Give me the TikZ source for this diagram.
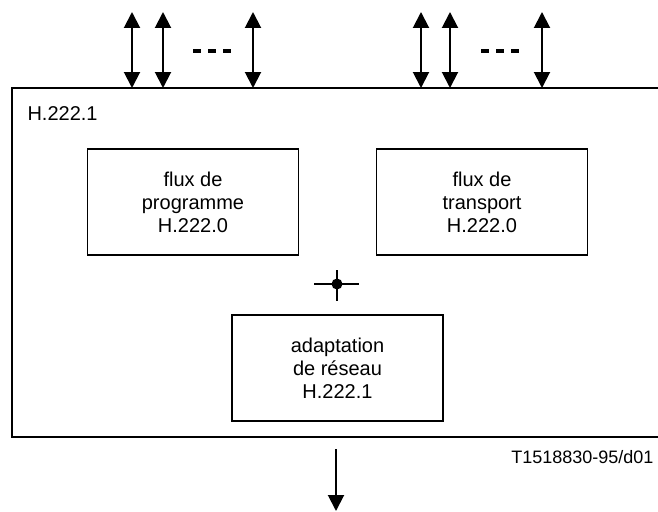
\documentclass[tikz,border=0pt]{standalone}
\usepackage{fontspec}
\setmainfont{Liberation Sans}
\usetikzlibrary{arrows.meta, positioning}

\begin{document}
\begin{tikzpicture}[
  x=1pt, y=-1pt,
  frame/.style={draw, line width=1.2pt, inner sep=0pt, minimum width=652pt, minimum height=349pt},
  block/.style={draw, line width=1.2pt, minimum width=211pt, minimum height=106pt, align=center, font=\fontsize{20}{23}\selectfont},
  biarrow/.style={line width=2pt, {Triangle[length=16pt, width=16pt]}-{Triangle[length=16pt, width=16pt]}},
  arrow/.style={line width=2pt, -{Triangle[length=16pt, width=16pt]}},
  cross/.style={line width=2pt},
  ellipsis/.style={line width=4pt, dash pattern=on 8pt off 7pt}
  ]
  \useasboundingbox (0,0) rectangle (658,511);

  % Outer H.222.1 frame (right side runs off the page)
  \node[frame] (sys) at (338,262.5) {};
  \node[anchor=base west, font=\fontsize{20}{23}\selectfont] (title) at (24,120) {H.222.1};

  % Inner blocks
  \node[block] (prog) at (193,202) {flux de\\programme\\H.222.0};
  \node[block] (trans) at (482,202) {flux de\\transport\\H.222.0};
  \node[block] (adapt) at (337.5,368) {adaptation\\de r\'eseau\\H.222.1};

  % Junction point
  \node[circle, fill, inner sep=0pt, minimum size=11pt] (junc) at (337,284) {};
  \coordinate (jl) at (314,284);
  \coordinate (jr) at (359,284);
  \coordinate (jt) at (337,270);
  \coordinate (jb) at (337,301);
  \draw[cross] (jl) -- (jr);
  \draw[cross] (jt) -- (jb);

  % Upper interfaces
  \coordinate (p1) at (132,88);  \coordinate (q1) at (132,12);
  \coordinate (p2) at (163,88);  \coordinate (q2) at (163,12);
  \coordinate (p3) at (253,88);  \coordinate (q3) at (253,12);
  \coordinate (p4) at (421,88);  \coordinate (q4) at (421,12);
  \coordinate (p5) at (450,88);  \coordinate (q5) at (450,12);
  \coordinate (p6) at (542,88);  \coordinate (q6) at (542,12);
  \draw[biarrow] (p1) -- (q1);
  \draw[biarrow] (p2) -- (q2);
  \draw[biarrow] (p3) -- (q3);
  \draw[biarrow] (p4) -- (q4);
  \draw[biarrow] (p5) -- (q5);
  \draw[biarrow] (p6) -- (q6);
  \draw[ellipsis] (193,51) -- (232,51);
  \draw[ellipsis] (481,51) -- (520,51);

  % Lower interface
  \coordinate (out) at (336,449);
  \coordinate (net) at (336,511);
  \draw[arrow] (out) -- (net);

  \node[anchor=base east, font=\fontsize{18}{21}\selectfont] (ref) at (657,463) {T1518830-95/d01};

\end{tikzpicture}
\end{document}
